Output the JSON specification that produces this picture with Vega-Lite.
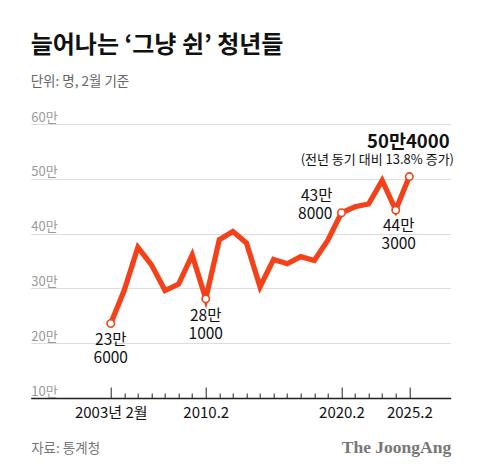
{
  "$schema": "https://vega.github.io/schema/vega-lite/v6.json",
  "width": 420,
  "height": 274,
  "autosize": {"type": "none"},
  "padding": {"left": 30.7, "top": 124, "right": 29.3, "bottom": 75},
  "background": "white",
  "config": {"view": {"stroke": null}, "font": "Noto Sans CJK KR"},
  "title": {
    "text": "늘어나는 ‘그냥 쉰’ 청년들",
    "subtitle": "단위: 명, 2월 기준",
    "anchor": "start",
    "frame": "group",
    "fontSize": 24,
    "fontWeight": "bold",
    "color": "#111111",
    "subtitleFontSize": 13.5,
    "subtitleColor": "#666666",
    "subtitlePadding": 17,
    "offset": 23
  },
  "datasets": {
    "series": [
      {"year": 2003, "value": 23.6, "label": "23만\n6000", "note": ""},
      {"year": 2004, "value": 29.7, "label": "", "note": ""},
      {"year": 2005, "value": 37.5, "label": "", "note": ""},
      {"year": 2006, "value": 34.3, "label": "", "note": ""},
      {"year": 2007, "value": 29.6, "label": "", "note": ""},
      {"year": 2008, "value": 30.8, "label": "", "note": ""},
      {"year": 2009, "value": 36.1, "label": "", "note": ""},
      {"year": 2010, "value": 28.1, "label": "28만\n1000", "note": ""},
      {"year": 2011, "value": 38.9, "label": "", "note": ""},
      {"year": 2012, "value": 40.4, "label": "", "note": ""},
      {"year": 2013, "value": 38.3, "label": "", "note": ""},
      {"year": 2014, "value": 30.3, "label": "", "note": ""},
      {"year": 2015, "value": 35.3, "label": "", "note": ""},
      {"year": 2016, "value": 34.5, "label": "", "note": ""},
      {"year": 2017, "value": 35.8, "label": "", "note": ""},
      {"year": 2018, "value": 35.1, "label": "", "note": ""},
      {"year": 2019, "value": 38.8, "label": "", "note": ""},
      {"year": 2020, "value": 43.8, "label": "43만\n8000", "note": ""},
      {"year": 2021, "value": 44.9, "label": "", "note": ""},
      {"year": 2022, "value": 45.4, "label": "", "note": ""},
      {"year": 2023, "value": 49.7, "label": "", "note": ""},
      {"year": 2024, "value": 44.3, "label": "44만\n3000", "note": ""},
      {"year": 2025, "value": 50.4, "label": "50만4000", "note": "(전년 동기 대비 13.8% 증가)"}
    ]
  },
  "data": {"name": "series"},
  "resolve": {"axis": {"x": "independent"}},
  "layer": [
    {
      "mark": {"type": "line", "color": "#f3421a", "strokeWidth": 5.3, "strokeJoin": "miter"},
      "encoding": {
        "x": {
          "field": "year", "type": "quantitative",
          "scale": {"domain": [1997.1, 2028.05], "nice": false, "zero": false},
          "axis": {
            "orient": "bottom",
            "values": [2003,2004,2005,2006,2007,2008,2009,2010,2011,2012,2013,2014,2015,2016,2017,2018,2019,2020,2021,2022,2023,2024,2025],
            "labelExpr": "datum.value == 2003 ? '2003년 2월' : (datum.value == 2010 || datum.value == 2020 || datum.value == 2025) ? datum.value + '.2' : ''",
            "tickSize": {"condition": {"test": "datum.value == 2003 || datum.value == 2010 || datum.value == 2020 || datum.value == 2025", "value": -11}, "value": -5},
            "tickColor": "#222222",
            "tickWidth": 1,
            "domainColor": "#222222",
            "domainWidth": 1.5,
            "labelFontSize": 15,
            "labelColor": "#111111",
            "labelPadding": 18,
            "labelOverlap": false,
            "labelFlush": false,
            "grid": false,
            "title": "자료: 통계청",
            "titleAnchor": "start",
            "titleAlign": "left",
            "titleFontSize": 13.5,
            "titleFontWeight": "normal",
            "titleColor": "#777777",
            "titlePadding": 15
          }
        },
        "y": {
          "field": "value", "type": "quantitative",
          "scale": {"domain": [10, 60], "nice": false, "zero": false},
          "axis": {
            "values": [10, 20, 30, 40, 50, 60],
            "labelExpr": "datum.value + '만'",
            "domain": false,
            "ticks": false,
            "tickSize": 0,
            "labelAlign": "left",
            "labelBaseline": "bottom",
            "labelPadding": 0,
            "labelDy": -2,
            "labelColor": "#999999",
            "labelFontSize": 13,
            "labelFlush": false,
            "gridColor": "#dddddd",
            "gridWidth": 1,
            "title": null
          }
        }
      }
    },
    {
      "transform": [{"filter": "datum.label != ''"}],
      "mark": {"type": "circle", "size": 55, "fill": "white", "stroke": "#f3421a", "strokeWidth": 1.6, "opacity": 1},
      "encoding": {
        "x": {"field": "year", "type": "quantitative", "axis": null},
        "y": {"field": "value", "type": "quantitative"}
      }
    },
    {
      "transform": [{"filter": "datum.year == 2003 || datum.year == 2010"}],
      "mark": {"type": "text", "baseline": "top", "align": "center", "dy": 10, "fontSize": 15.5, "lineBreak": "\n", "lineHeight": 18, "color": "#111111"},
      "encoding": {
        "x": {"field": "year", "type": "quantitative", "axis": null},
        "y": {"field": "value", "type": "quantitative"},
        "text": {"field": "label"}
      }
    },
    {
      "transform": [{"filter": "datum.year == 2024"}],
      "mark": {"type": "text", "baseline": "top", "align": "center", "dx": 3, "dy": 9, "fontSize": 15.5, "lineBreak": "\n", "lineHeight": 18, "color": "#111111"},
      "encoding": {
        "x": {"field": "year", "type": "quantitative", "axis": null},
        "y": {"field": "value", "type": "quantitative"},
        "text": {"field": "label"}
      }
    },
    {
      "transform": [{"filter": "datum.year == 2020"}],
      "mark": {"type": "text", "baseline": "middle", "align": "right", "dx": -9, "dy": -17, "fontSize": 15.5, "lineBreak": "\n", "lineHeight": 18, "color": "#111111"},
      "encoding": {
        "x": {"field": "year", "type": "quantitative", "axis": null},
        "y": {"field": "value", "type": "quantitative"},
        "text": {"field": "label"}
      }
    },
    {
      "transform": [{"filter": "datum.year == 2025"}],
      "mark": {"type": "text", "baseline": "middle", "align": "center", "dx": -1, "dy": -35, "fontSize": 18.5, "fontWeight": "bold", "color": "#111111"},
      "encoding": {
        "x": {"field": "year", "type": "quantitative", "axis": null},
        "y": {"field": "value", "type": "quantitative"},
        "text": {"field": "label"}
      }
    },
    {
      "transform": [{"filter": "datum.year == 2025"}],
      "mark": {"type": "text", "baseline": "middle", "align": "center", "dx": -32, "dy": -17, "fontSize": 13, "color": "#111111"},
      "encoding": {
        "x": {"field": "year", "type": "quantitative", "axis": null},
        "y": {"field": "value", "type": "quantitative"},
        "text": {"field": "note"}
      }
    },
    {
      "mark": {"type": "point", "opacity": 0},
      "encoding": {
        "x": {
          "field": "year", "type": "quantitative",
          "axis": {
            "orient": "bottom",
            "labels": false,
            "ticks": false,
            "domain": false,
            "grid": false,
            "title": "The JoongAng",
            "titleAnchor": "end",
            "titleAlign": "right",
            "titleFont": "Liberation Serif",
            "titleFontSize": 17.5,
            "titleFontWeight": "bold",
            "titleColor": "#777777",
            "titlePadding": 40
          }
        },
        "y": {"field": "value", "type": "quantitative"}
      }
    }
  ]
}
